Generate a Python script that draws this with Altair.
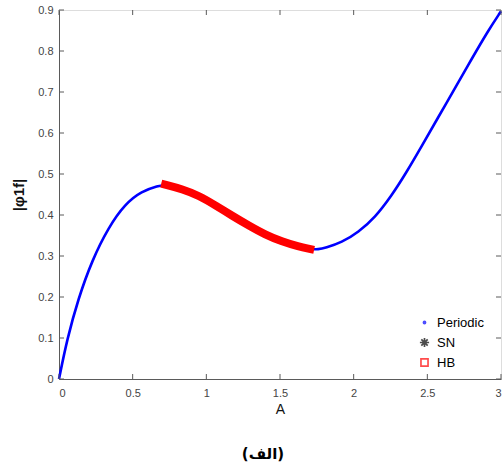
import altair as alt
import pandas as pd

# ---- data ----
A_periodic = [0, 0.055, 0.13, 0.225, 0.336, 0.449, 0.561, 0.674, 0.72,
              0.838, 0.951, 1.064, 1.176, 1.289, 1.40, 1.514, 1.626, 1.705,
              1.76, 1.807, 1.919, 2.032, 2.145, 2.257, 2.358, 2.46, 2.572, 2.685,
              2.797, 2.91, 3.0]
phi_periodic = [0, 0.097, 0.195, 0.29, 0.37, 0.427, 0.458, 0.471, 0.474,
                0.463, 0.447, 0.423, 0.398, 0.374, 0.352, 0.335, 0.323, 0.317,
                0.316, 0.3195, 0.333, 0.358, 0.394, 0.447, 0.504, 0.567, 0.637, 0.708,
                0.778, 0.848, 0.897]

A_hb = [0.72, 0.838, 0.951, 1.064, 1.176, 1.289, 1.40, 1.514, 1.626, 1.705]
phi_hb = [0.474, 0.463, 0.447, 0.423, 0.398, 0.374, 0.352, 0.335, 0.323, 0.317]

series_names = ["Periodic", "SN", "HB"]
x_ticks = [0, 0.5, 1, 1.5, 2, 2.5, 3]
y_ticks = [0, 0.1, 0.2, 0.3, 0.4, 0.5, 0.6, 0.7, 0.8, 0.9]

W, H = 442, 369
AX = "#5a5a5a"
FONT = "Liberation Sans"

periodic = pd.DataFrame({"A": A_periodic, "phi": phi_periodic})
hb = pd.DataFrame({"A": A_hb, "phi": phi_hb})
xt = pd.DataFrame({"A": x_ticks})
yt = pd.DataFrame({"phi": y_ticks})
leg = pd.DataFrame({"series": series_names})

x_scale = alt.Scale(domain=[0, 3], nice=False, zero=False)
y_scale = alt.Scale(domain=[0, 0.9], nice=False)

x_axis = alt.Axis(values=x_ticks, format="~g", title="A", grid=False, tickSize=0,
                  domainColor=AX, labelColor="#444", labelFont=FONT, labelFontSize=11,
                  labelPadding=8, titleFont=FONT, titleFontSize=14, titleFontWeight="normal",
                  titleColor="#111", titlePadding=4)
y_axis = alt.Axis(values=y_ticks, format="~g", title="|φ1f|", grid=False, tickSize=0,
                  domainColor=AX, labelColor="#444", labelFont=FONT, labelFontSize=11,
                  labelPadding=6, titleFont=FONT, titleFontSize=15, titleFontWeight="bold",
                  titleColor="#111", titlePadding=11)

X = alt.X("A:Q", scale=x_scale, axis=x_axis)
Y = alt.Y("phi:Q", scale=y_scale, axis=y_axis)

blue = alt.Chart(periodic).mark_line(color="#0000ff", strokeWidth=2.6, interpolate="basis").encode(
    x=X, y=Y, order="A:Q",
)

red = alt.Chart(hb).mark_line(color="#ff0000", strokeWidth=8, strokeCap="square",
                              interpolate="basis").encode(
    x=X, y=Y, order="A:Q",
)

# inward tick marks (MATLAB style)
bt = alt.Chart(xt).mark_rule(color=AX).encode(x=X, y=alt.value(H), y2=alt.value(H - 5))
tt = alt.Chart(xt).mark_rule(color=AX).encode(x=X, y=alt.value(0), y2=alt.value(5))
lt = alt.Chart(yt).mark_rule(color=AX).encode(y=Y, x=alt.value(0), x2=alt.value(5))
rt = alt.Chart(yt).mark_rule(color=AX).encode(y=Y, x=alt.value(W), x2=alt.value(W - 5))

dot_path = "M-0.3,0A0.3,0.3 0 1,0 0.3,0A0.3,0.3 0 1,0 -0.3,0Z"
star_path = "M-1.3,0L1.3,0M0,-1.3L0,1.3M-0.9,-0.9L0.9,0.9M-0.9,0.9L0.9,-0.9"

lg = alt.Legend(title=None, orient="none", legendX=359, legendY=306, padding=0,
                labelFont=FONT, labelFontSize=13, labelColor="#000", labelOffset=6,
                symbolSize=50, symbolStrokeWidth=1.7, rowPadding=4)

legend_layer = alt.Chart(leg).mark_point(filled=False).encode(
    shape=alt.Shape("series:N", scale=alt.Scale(domain=series_names,
                    range=[dot_path, star_path, "square"]), legend=lg),
    stroke=alt.Stroke("series:N", scale=alt.Scale(domain=series_names,
                      range=["#0000ff", "#000000", "#ff0000"]), legend=lg),
    fill=alt.Fill("series:N", scale=alt.Scale(domain=series_names,
                  range=["#0000ff", "transparent", "#ffffff"]), legend=lg),
).transform_filter("false")

chart = alt.layer(blue, red, bt, tt, lt, rt, legend_layer).properties(
    width=W, height=H,
    autosize=alt.AutoSizeParams(type="none"),
    padding={"left": 59, "top": 10, "right": 2, "bottom": 89},
    title=alt.TitleParams(text="(الف)", orient="bottom", font="DejaVu Sans",
                          fontSize=15, fontWeight="bold", color="#000",
                          anchor="middle", offset=31, dx=-17),
).configure_view(stroke="#333", strokeWidth=1).configure(background="white")

chart.save("out.html", embed_options={"renderer": "svg", "actions": False})
